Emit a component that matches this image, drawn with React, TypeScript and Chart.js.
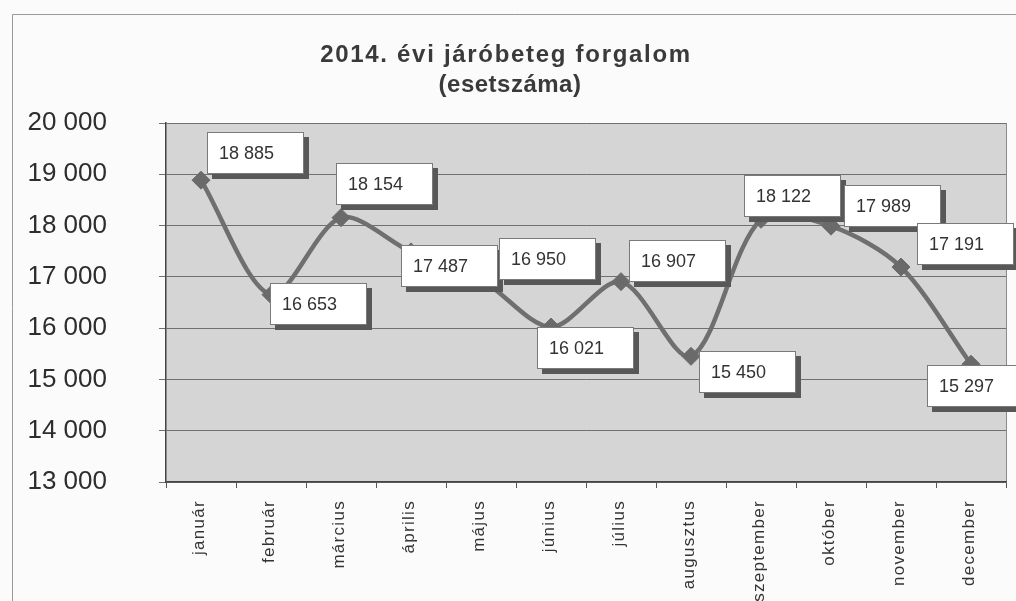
import React, { useEffect, useRef } from "react";
import { Chart, registerables } from "chart.js";

Chart.register(...registerables);

const titleLines = ["2014. évi járóbeteg forgalom", "(esetszáma)"];
const months = [
  "január", "február", "március", "április", "május", "június",
  "július", "augusztus", "szeptember", "október", "november", "december",
];
const cases = [18885, 16653, 18154, 17487, 16950, 16021, 16907, 15450, 18122, 17989, 17191, 15297];
const yMin = 13000;
const yMax = 20000;
const yStep = 1000;

// manual label box placement (offset of box top-left from the point), like in the original
const labelOffsets: [number, number][] = [
  [6, -48], [-1, -12], [-5, -55], [-10, -7], [18, -41], [-14, 0],
  [8, -42], [8, -5], [-17, -44], [13, -41], [16, -44], [-44, 1],
];

const fmt = (v: number) => String(Math.round(v)).replace(/\B(?=(\d{3})+(?!\d))/g, " ");

const decorPlugin = {
  id: "decor",
  beforeDraw(chart: any) {
    const { ctx, chartArea, width, height } = chart;
    ctx.save();
    ctx.fillStyle = "#fbfbfb";
    ctx.fillRect(0, 0, width, height);
    ctx.strokeStyle = "#9a9a9a";
    ctx.lineWidth = 1;
    ctx.beginPath();
    ctx.moveTo(12.5, height);
    ctx.lineTo(12.5, 14.5);
    ctx.lineTo(width, 14.5);
    ctx.stroke();
    ctx.fillStyle = "#d5d5d5";
    ctx.fillRect(chartArea.left, chartArea.top, chartArea.right - chartArea.left, chartArea.bottom - chartArea.top);
    ctx.strokeStyle = "#8a8a8a";
    ctx.beginPath();
    ctx.moveTo(chartArea.right + 0.5, chartArea.top);
    ctx.lineTo(chartArea.right + 0.5, chartArea.bottom);
    ctx.stroke();
    ctx.restore();
  },
  afterDraw(chart: any) {
    const { ctx } = chart;
    const xs = chart.scales.x;
    ctx.save();
    // title
    ctx.fillStyle = "#3a3a3a";
    ctx.textAlign = "center";
    ctx.textBaseline = "alphabetic";
    ctx.font = "bold 24px Arial, 'Liberation Sans', sans-serif";
    (ctx as any).letterSpacing = "1.7px";
    ctx.fillText(titleLines[0], 506, 62);
    (ctx as any).letterSpacing = "0.5px";
    ctx.fillText(titleLines[1], 510, 92);
    // x labels
    ctx.font = "17px Arial, 'Liberation Sans', sans-serif";
    (ctx as any).letterSpacing = "1.3px";
    ctx.fillStyle = "#333333";
    ctx.textAlign = "right";
    ctx.textBaseline = "middle";
    months.forEach((m, i) => {
      const x = xs.getPixelForValue(i);
      ctx.save();
      ctx.translate(x - 2, chart.chartArea.bottom + 18);
      ctx.rotate(-Math.PI / 2);
      ctx.fillText(m, 0, 0);
      ctx.restore();
    });
    ctx.restore();
  },
  afterDatasetsDraw(chart: any) {
    const { ctx } = chart;
    const meta = chart.getDatasetMeta(0);
    ctx.save();
    const w = 97;
    const h = 42;
    meta.data.forEach((pt: any, i: number) => {
      const [dx, dy] = labelOffsets[i];
      const bx = Math.round(pt.x + dx);
      const by = Math.round(pt.y + dy);
      ctx.fillStyle = "#585858";
      ctx.fillRect(bx + 5, by + 5, w, h);
      ctx.fillStyle = "#ffffff";
      ctx.fillRect(bx, by, w, h);
      ctx.strokeStyle = "#7a7a7a";
      ctx.lineWidth = 1;
      ctx.strokeRect(bx + 0.5, by + 0.5, w - 1, h - 1);
      ctx.fillStyle = "#333333";
      ctx.font = "18px Arial, 'Liberation Sans', sans-serif";
      ctx.textAlign = "left";
      ctx.textBaseline = "middle";
      ctx.fillText(fmt(cases[i]), bx + 12, by + h / 2 + 1);
    });
    ctx.restore();
  },
};

export default function App() {
  const ref = useRef<HTMLCanvasElement | null>(null);
  useEffect(() => {
    if (!ref.current) return;
    const chart = new Chart(ref.current, {
      type: "line",
      data: {
        labels: months,
        datasets: [
          {
            data: cases,
            borderColor: "#6f6f6f",
            borderWidth: 4.5,
            tension: 0.3,
            pointStyle: "rectRot",
            pointRadius: 9,
            pointBackgroundColor: "#6a6a6a",
            pointBorderColor: "#6a6a6a",
            pointBorderWidth: 1,
            fill: false,
          },
        ],
      },
      plugins: [decorPlugin],
      options: {
        responsive: false,
        animation: false,
        layout: { padding: { top: 123, left: 0, right: 7, bottom: 0 } },
        plugins: {
          legend: { display: false },
          title: { display: false },
          tooltip: { enabled: false },
        },
        scales: {
          x: {
            type: "category",
            offset: true,
            grid: {
              offset: true,
              drawOnChartArea: false,
              drawTicks: true,
              tickLength: 6,
              color: "#555555",
            },
            border: { display: true, color: "#444444", width: 1.5 },
            ticks: { display: false },
            afterFit: (scale: any) => {
              scale.height = 119;
            },
          },
          y: {
            min: yMin,
            max: yMax,
            ticks: {
              stepSize: yStep,
              callback: (v: any) => fmt(Number(v)),
              color: "#2d2d2d",
              font: { size: 26, family: "Arial, 'Liberation Sans', sans-serif" },
              padding: 52,
            },
            grid: {
              color: "#707070",
              lineWidth: 1,
              drawTicks: true,
              tickLength: 7,
            },
            border: { display: true, color: "#444444", width: 1.5 },
            afterFit: (scale: any) => {
              scale.width = 166;
            },
          },
        },
      },
    });
    return () => chart.destroy();
  }, []);
  return (
    <div style={{ position: "absolute", left: 0, top: 0, width: 1016, height: 601 }}>
      <canvas ref={ref} width={1016} height={601} />
    </div>
  );
}
